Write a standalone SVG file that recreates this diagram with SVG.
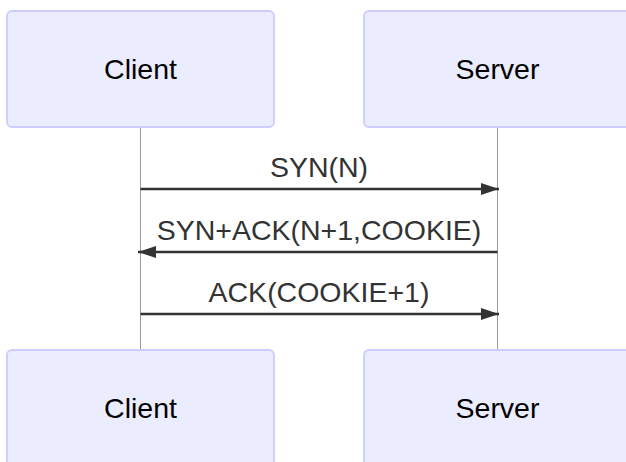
<svg xmlns="http://www.w3.org/2000/svg" width="626" height="462" viewBox="0 0 626 462">
  <style>
    .actor { fill: #ECECFF; stroke: #CCCCFF; stroke-width: 1.8; }
    .actor-text { font-family: "Liberation Sans", Arial, sans-serif; font-size: 28.5px; fill: #000; text-anchor: middle; }
    .lifeline { stroke: #999; stroke-width: 1; }
    .msg { stroke: #333; stroke-width: 2.6; fill: none; }
    .msg-text { font-family: "Liberation Sans", Arial, sans-serif; font-size: 28.5px; fill: #333; text-anchor: middle; }
  </style>
  <defs>
    <marker id="arrowhead" viewBox="0 0 12 8" refX="12" refY="4" markerUnits="userSpaceOnUse" markerWidth="18" markerHeight="12" orient="auto">
      <path d="M0,0 L12,4 L0,8 z" fill="#333"/>
    </marker>
  </defs>
  <rect width="626" height="462" fill="#fff"/>

  <!-- lifelines -->
  <g id="lifelines">
    <line class="lifeline" x1="140.5" y1="127" x2="140.5" y2="350"/>
    <line class="lifeline" x1="497.5" y1="127" x2="497.5" y2="350"/>
  </g>

  <!-- participants, top row -->
  <g id="client-top">
    <rect class="actor" x="7" y="11" width="267" height="116" rx="5"/>
    <text class="actor-text" x="140.5" y="79">Client</text>
  </g>
  <g id="server-top">
    <rect class="actor" x="364" y="11" width="267" height="116" rx="5"/>
    <text class="actor-text" x="497.5" y="79">Server</text>
  </g>

  <!-- messages -->
  <g id="messages">
    <line class="msg" x1="140.5" y1="189" x2="499" y2="189" marker-end="url(#arrowhead)"/>
    <text class="msg-text" x="319" y="177">SYN(N)</text>
    <line class="msg" x1="497.5" y1="252" x2="138" y2="252" marker-end="url(#arrowhead)"/>
    <text class="msg-text" x="319" y="240">SYN+ACK(N+1,COOKIE)</text>
    <line class="msg" x1="140.5" y1="314" x2="499" y2="314" marker-end="url(#arrowhead)"/>
    <text class="msg-text" x="319" y="302">ACK(COOKIE+1)</text>
  </g>

  <!-- participants, bottom row -->
  <g id="client-bottom">
    <rect class="actor" x="7" y="350" width="267" height="116" rx="5"/>
    <text class="actor-text" x="140.5" y="418">Client</text>
  </g>
  <g id="server-bottom">
    <rect class="actor" x="364" y="350" width="267" height="116" rx="5"/>
    <text class="actor-text" x="497.5" y="418">Server</text>
  </g>
</svg>
